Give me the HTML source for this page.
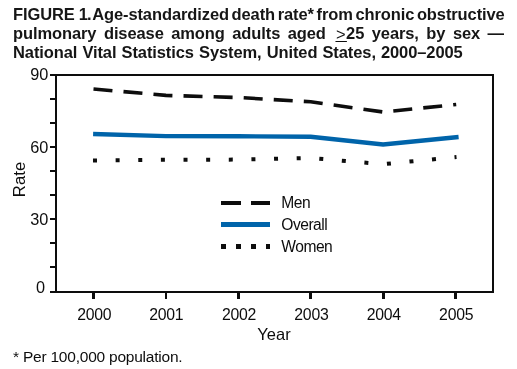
<!DOCTYPE html>
<html><head><meta charset="utf-8"><style>
html,body{margin:0;padding:0;background:#fff;}
.wrap{position:absolute;left:0;top:0;width:517px;height:369px;will-change:transform;}
body{width:517px;height:369px;position:relative;overflow:hidden;font-family:"Liberation Sans",sans-serif;color:#0d0d0d;}
.t{position:absolute;left:13.2px;white-space:nowrap;font-weight:bold;font-size:17.3px;letter-spacing:-0.1px;line-height:20px;transform:scaleX(0.954);transform-origin:0 0;color:#161616;}
svg{position:absolute;left:0;top:0;}
.ge{position:relative;font-weight:normal;margin-left:2.9px;margin-right:0.5px;top:1px}
.ge::after{content:"";position:absolute;left:-0.5px;right:-1.5px;top:17.4px;height:1.3px;background:#0d0d0d}
svg text{font-family:"Liberation Sans",sans-serif;fill:#0d0d0d;}
</style></head><body><div class="wrap">
<div class="t" style="top:4px;word-spacing:-1.95px">FIGURE <span style="margin-left:1.4px;letter-spacing:-1px">1.</span><span style="margin-left:-0.4px"></span> Age-standardized death rate* from chronic obstructive</div>
<div class="t" style="top:22.5px;word-spacing:3.15px">pulmonary disease among adults aged <span class="ge">&gt;</span>25 years, by sex —</div>
<div class="t" style="top:42px;word-spacing:0.65px">National Vital Statistics System, United States, 2000–2005</div>
<svg width="517" height="369" viewBox="0 0 517 369">
<g fill="#0d0d0d">
<rect x="50" y="74" width="444" height="2"/>
<rect x="50" y="291" width="444" height="2"/>
<rect x="55" y="74" width="2" height="219"/>
<rect x="492" y="74" width="2" height="219"/>
<rect x="50" y="74" width="5" height="2"/><rect x="50" y="98" width="5" height="2"/><rect x="50" y="122" width="5" height="2"/><rect x="50" y="146" width="5" height="2"/><rect x="50" y="170" width="5" height="2"/><rect x="50" y="194" width="5" height="2"/><rect x="50" y="218" width="5" height="2"/><rect x="50" y="242" width="5" height="2"/><rect x="50" y="266" width="5" height="2"/><rect x="50" y="291" width="5" height="2"/><rect x="92" y="293" width="3" height="6"/><rect x="165" y="293" width="2" height="6"/><rect x="237" y="293" width="3" height="6"/><rect x="309" y="293" width="3" height="6"/><rect x="382" y="293" width="3" height="6"/><rect x="454" y="293" width="3" height="6"/>
</g>
<polyline points="93.50,89.00 165.90,95.40 238.30,97.50 310.70,101.80 383.10,112.00 456.20,104.50" fill="none" stroke="#0d0d0d" stroke-width="3.6" stroke-dasharray="19 11.102"/>
<polyline points="93.10,134.00 165.90,136.10 238.30,136.20 310.70,136.80 383.10,144.50 458.60,137.00" fill="none" stroke="#0064aa" stroke-width="4.4"/>
<polyline points="93.00,160.60 165.90,159.80 238.30,159.60 310.70,158.00 383.10,164.20 456.50,157.00" fill="none" stroke="#0d0d0d" stroke-width="4" stroke-dasharray="4 18.633"/>
<rect x="221" y="201" width="20" height="4" fill="#0d0d0d"/>
<rect x="251" y="201" width="19" height="4" fill="#0d0d0d"/>
<rect x="221" y="222" width="49" height="5" fill="#0064aa"/>
<g fill="#0d0d0d">
<rect x="221" y="244" width="5" height="5"/><rect x="236" y="244" width="5" height="5"/><rect x="251" y="244" width="5" height="5"/><rect x="266" y="244" width="4" height="5"/>
</g>
<g font-size="16.3" text-anchor="end">
<text x="48.3" y="80.2">90</text>
<text x="48.3" y="152.5">60</text>
<text x="48.3" y="224.7">30</text>
<text x="45" y="293.2">0</text>
</g>
<g font-size="15.8" text-anchor="middle" letter-spacing="-0.25">
<text x="94.3" y="319.6">2000</text><text x="166.3" y="319.6">2001</text><text x="239" y="319.6">2002</text>
<text x="311.4" y="319.6">2003</text><text x="383.8" y="319.6">2004</text><text x="456.2" y="319.6">2005</text>
</g>
<g>
<g font-size="15.6" letter-spacing="-0.5"><text x="281.3" y="208">Men</text>
<text x="281.3" y="229.5">Overall</text>
<text x="281.3" y="251.7">Women</text></g>
</g>
<text x="274" y="340" font-size="16.5" text-anchor="middle">Year</text>
<text transform="translate(25,179.5) rotate(-90)" font-size="16.8" text-anchor="middle">Rate</text>
<text x="13" y="362" font-size="15.5" letter-spacing="-0.22">* Per 100,000 population.</text>
</svg>
</div></body></html>
